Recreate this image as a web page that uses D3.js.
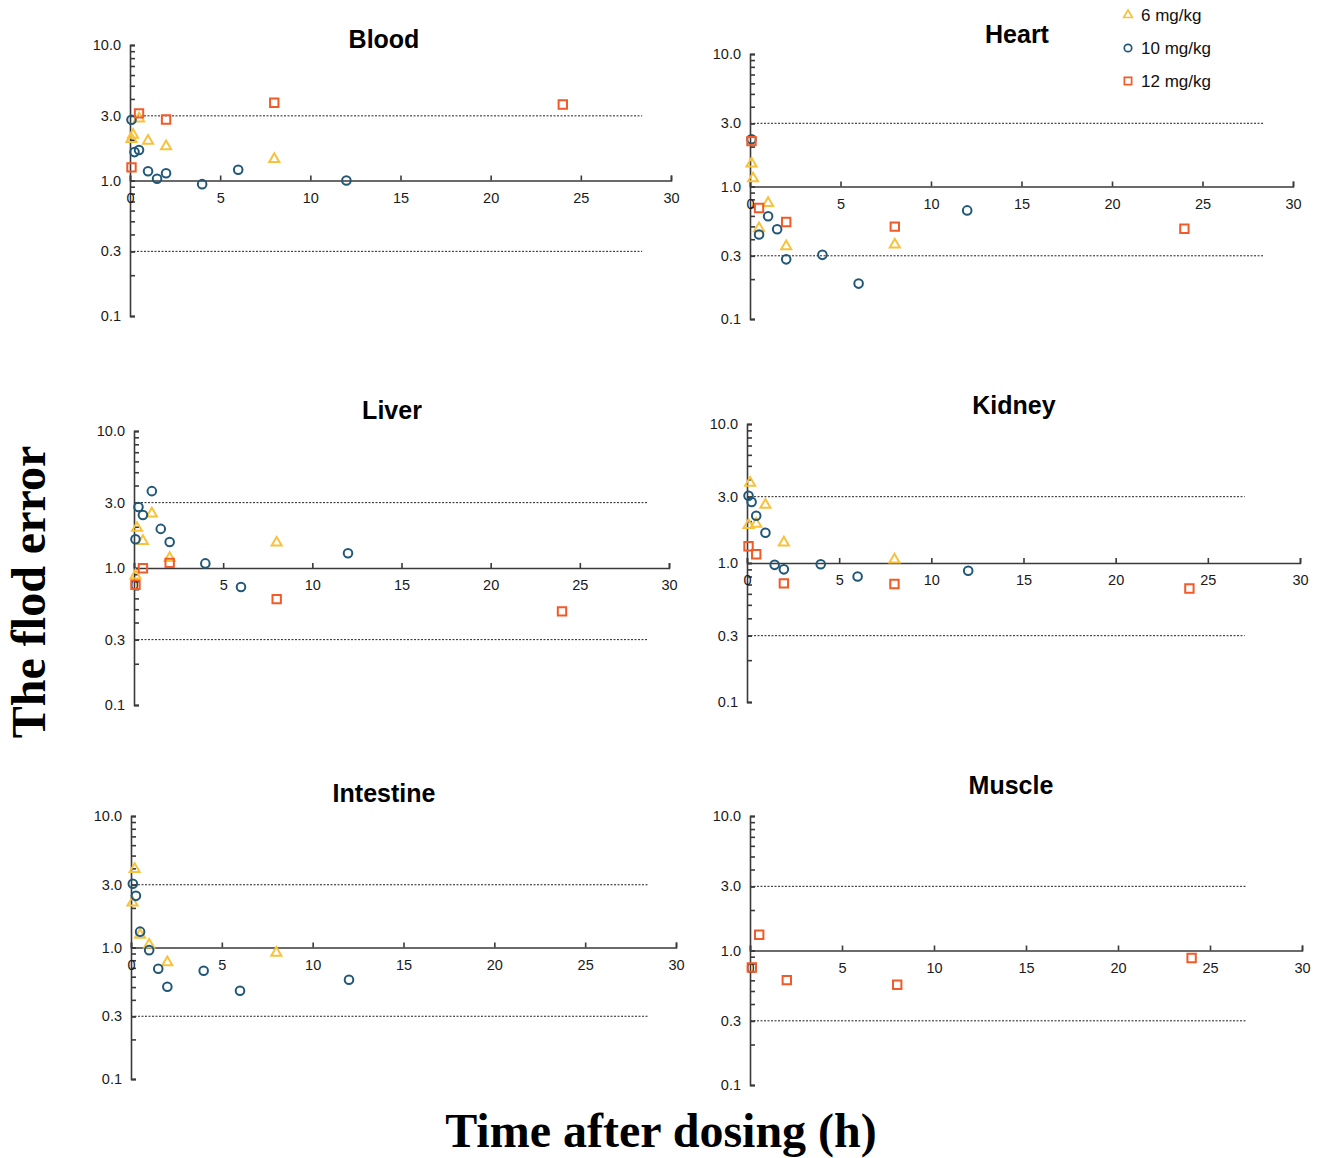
<!DOCTYPE html>
<html><head><meta charset="utf-8">
<script src="https://cdn.jsdelivr.net/npm/d3@7"></script>
<style>body{margin:0;background:#fff;} svg{display:block;}</style>
</head><body>
<svg id="chart" width="1321" height="1158"></svg>
<script>
// ---------------- data ----------------
const organs = ["Blood", "Heart", "Liver", "Kidney", "Intestine", "Muscle"];
const doses = ["6 mg/kg", "10 mg/kg", "12 mg/kg"];
const xTicks = [0, 5, 10, 15, 20, 25, 30];
const yMajorTicks = [0.1, 0.3, 1, 3, 10];
const guideLevels = [0.3, 3];

// [time (h), fold error]
const blood6  = [[0.083,2.02],[0.17,2.17],[0.5,2.86],[1,1.96],[2,1.79],[8,1.44]];
const blood10 = [[0.083,2.81],[0.25,1.62],[0.5,1.68],[1,1.17],[1.5,1.03],[2,1.13],[4,0.94],[6,1.2],[12,1.0]];
const blood12 = [[0.083,1.25],[0.5,3.13],[2,2.82],[8,3.75],[24,3.64]];

const heart6  = [[0.083,1.49],[0.17,1.15],[0.5,0.484],[1,0.75],[2,0.353],[8,0.365]];
const heart10 = [[0.083,2.27],[0.5,0.434],[1,0.596],[1.5,0.476],[2,0.282],[4,0.305],[6,0.185],[12,0.66]];
const heart12 = [[0.083,2.2],[0.5,0.688],[2,0.54],[8,0.498],[24,0.48]];

const liver6  = [[0.083,0.88],[0.17,1.96],[0.5,1.57],[1,2.5],[2,1.18],[8,1.53]];
const liver10 = [[0.083,1.62],[0.25,2.79],[0.5,2.44],[1,3.64],[1.5,1.93],[2,1.55],[4,1.08],[6,0.726],[12,1.28]];
const liver12 = [[0.083,0.755],[0.5,0.995],[2,1.09],[8,0.593],[24,0.482]];

const kidney6  = [[0.083,1.87],[0.17,3.78],[0.5,1.91],[1,2.62],[2,1.4],[8,1.06]];
const kidney10 = [[0.083,3.05],[0.25,2.75],[0.5,2.19],[1,1.65],[1.5,0.97],[2,0.9],[4,0.98],[6,0.8],[12,0.88]];
const kidney12 = [[0.083,1.32],[0.5,1.155],[2,0.713],[8,0.706],[24,0.656]];

const intestine6  = [[0.083,2.2],[0.2,3.94],[0.5,1.25],[1,1.05],[2,0.77],[8,0.91]];
const intestine10 = [[0.1,3.05],[0.27,2.47],[0.5,1.32],[1,0.955],[1.5,0.689],[2,0.503],[4,0.665],[6,0.469],[12,0.568]];
const intestine12 = [];

const muscle6  = [];
const muscle10 = [];
const muscle12 = [[0.1,0.748],[0.5,1.31],[2,0.602],[8,0.556],[24,0.88]];

const seriesByOrgan = {
  Blood: [blood6, blood10, blood12],
  Heart: [heart6, heart10, heart12],
  Liver: [liver6, liver10, liver12],
  Kidney: [kidney6, kidney10, kidney12],
  Intestine: [intestine6, intestine10, intestine12],
  Muscle: [muscle6, muscle10, muscle12]
};

// ---------------- layout / style ----------------
const layout = {
  Blood:     {x0:130, x30:671,  y10:45,  y01:316,  dashEnd:28.4, tx:384,  ty:39},
  Heart:     {x0:750, x30:1293, y10:54,  y01:319,  dashEnd:28.4, tx:1017, ty:34},
  Liver:     {x0:134, x30:669,  y10:431, y01:705,  dashEnd:28.8, tx:392,  ty:410},
  Kidney:    {x0:747, x30:1300, y10:424, y01:702,  dashEnd:27.0, tx:1014, ty:405},
  Intestine: {x0:131, x30:676,  y10:816, y01:1079, dashEnd:28.5, tx:384,  ty:793},
  Muscle:    {x0:750, x30:1302, y10:816, y01:1085, dashEnd:27.0, tx:1011, ty:785}
};
const colors = ["#f8c23c", "#215878", "#f25a28"];
const symbols = [d3.symbolTriangle, d3.symbolCircle, d3.symbolSquare];
const symSizes = [44, 58, 70];
const drawOrder = [0, 1, 2];
const axisColor = "#3a3a3a";
const sansFont = "'Liberation Sans', Arial, sans-serif";
const serifFont = "'Liberation Serif', 'Times New Roman', serif";

const svg = d3.select("#chart");

organs.forEach(org => {
  const L = layout[org];
  const x = d3.scaleLinear().domain([0, 30]).range([L.x0, L.x30]);
  const y = d3.scaleLog().domain([0.1, 10]).range([L.y01, L.y10]);
  const g = svg.append("g");

  // dashed guide lines
  g.selectAll("line.guide").data(guideLevels).join("line")
    .attr("x1", x(0)).attr("x2", x(L.dashEnd))
    .attr("y1", d => y(d)).attr("y2", d => y(d))
    .attr("stroke", "#222").attr("stroke-width", 1)
    .attr("stroke-dasharray", "2,1.5");

  // y axis (minor ticks)
  const yMinor = g.append("g").attr("transform", `translate(${x(0)},0)`)
    .call(d3.axisLeft(y).tickValues(y.ticks()).tickSizeInner(-5).tickSizeOuter(-5).tickFormat(""));
  // y axis (major labels)
  const yMajor = g.append("g").attr("transform", `translate(${x(0)},0)`)
    .call(d3.axisLeft(y).tickValues(yMajorTicks).tickSizeInner(-5).tickSizeOuter(0).tickPadding(9).tickFormat(d3.format(".1f")));
  yMajor.select(".domain").remove();
  [yMinor, yMajor].forEach(a => {
    a.selectAll("path,line").attr("stroke", axisColor).attr("stroke-width", 1.6);
    a.selectAll("text").attr("font-family", sansFont).attr("font-size", 14.5).attr("fill", "#1a1a1a");
  });

  // x axis at y = 1.0
  const xa = g.append("g").attr("transform", `translate(0,${y(1)})`)
    .call(d3.axisBottom(x).tickValues(xTicks).tickSizeInner(-5).tickSizeOuter(-5).tickPadding(12).tickFormat(d3.format("d")));
  xa.selectAll("path,line").attr("stroke", axisColor).attr("stroke-width", 1.6);
  xa.selectAll("text").attr("font-family", sansFont).attr("font-size", 14.5).attr("fill", "#1a1a1a");

  // points
  drawOrder.forEach(si => {
    g.selectAll(null).data(seriesByOrgan[org][si]).join("path")
      .attr("transform", d => `translate(${x(d[0])},${y(d[1])})`)
      .attr("d", d3.symbol().type(symbols[si]).size(symSizes[si]))
      .attr("fill", "none").attr("stroke", colors[si]).attr("stroke-width", 2);
  });

  // title
  g.append("text").attr("x", L.tx).attr("y", L.ty + 9)
    .attr("text-anchor", "middle").attr("font-family", sansFont)
    .attr("font-weight", "bold").attr("font-size", 25).attr("fill", "#000").text(org);
});

// legend
const legend = svg.append("g");
doses.forEach((d, i) => {
  const ly = 15 + i * 33;
  legend.append("path").attr("transform", `translate(1128,${ly})`)
    .attr("d", d3.symbol().type(symbols[i]).size(symSizes[i] * 0.75))
    .attr("fill", "none").attr("stroke", colors[i]).attr("stroke-width", 1.7);
  legend.append("text").attr("x", 1141).attr("y", ly + 6)
    .attr("font-family", sansFont).attr("font-size", 17).attr("fill", "#111").text(d);
});

// axis titles
svg.append("text").attr("transform", "translate(45,592) rotate(-90)")
  .attr("text-anchor", "middle").attr("font-family", serifFont)
  .attr("font-weight", "bold").attr("font-size", 48).text("The flod error");
svg.append("text").attr("x", 661).attr("y", 1147)
  .attr("text-anchor", "middle").attr("font-family", serifFont)
  .attr("font-weight", "bold").attr("font-size", 48).text("Time after dosing (h)");
</script>
</body></html>
